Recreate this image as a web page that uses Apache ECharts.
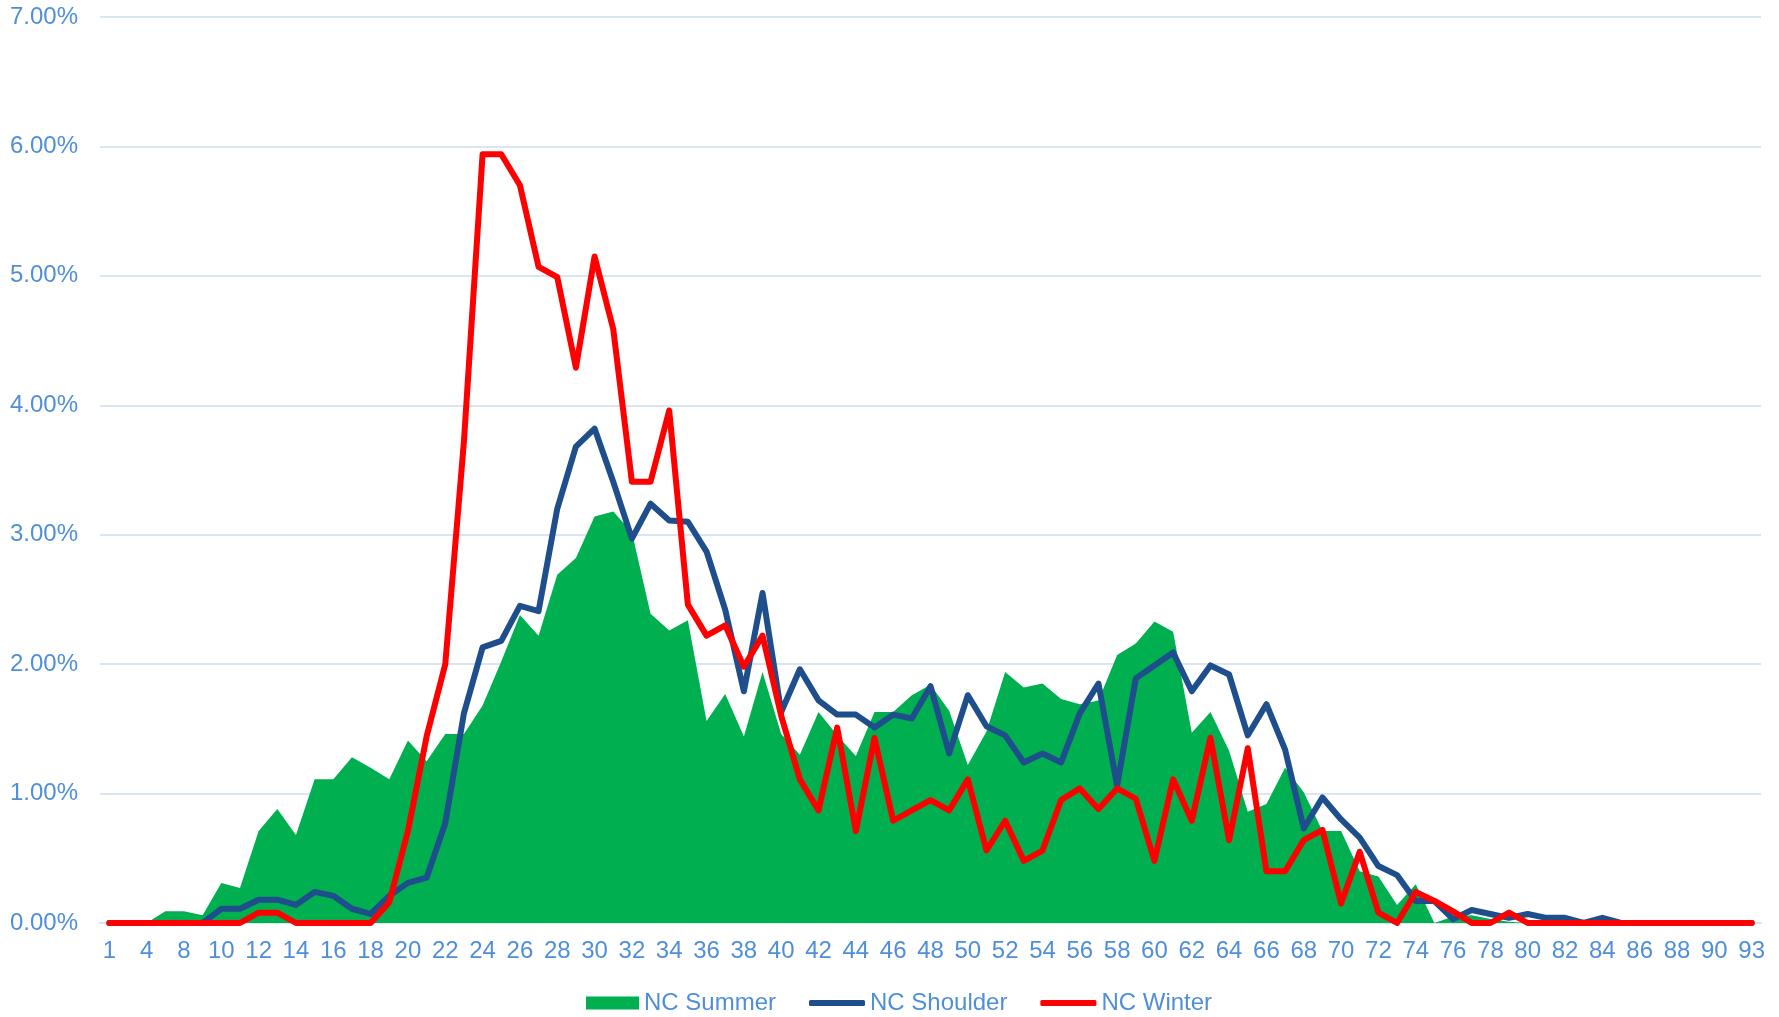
<!DOCTYPE html>
<html>
<head>
<meta charset="utf-8">
<script src="https://cdn.jsdelivr.net/npm/echarts@6/dist/echarts.min.js"></script>
<style>
  html, body { margin: 0; padding: 0; background: #fff; }
  #main { width: 1779px; height: 1017px; }
</style>
</head>
<body>
<div id="main"></div>
<script>
// x categories (only every other one is labelled)
var categories = ['1','2','4','6','8','9','10','11','12','13','14','15','16','17','18','19','20','21','22','23','24','25','26','27','28','29','30','31','32','33','34','35','36','37','38','39','40','41','42','43','44','45','46','47','48','49','50','51','52','53','54','55','56','57','58','59','60','61','62','63','64','65','66','67','68','69','70','71','72','73','74','75','76','77','78','79','80','81','82','83','84','85','86','87','88','89','90','91','93'];

// values in percent
var ncSummer = [0,0,0,0.09,0.09,0.06,0.31,0.27,0.71,0.88,
  0.68,1.11,1.11,1.28,1.20,1.11,1.41,1.25,1.46,1.46,
  1.68,2.02,2.38,2.22,2.69,2.82,3.14,3.18,3.02,2.39,
  2.26,2.34,1.56,1.77,1.44,1.94,1.46,1.30,1.63,1.45,
  1.29,1.63,1.63,1.76,1.84,1.64,1.22,1.48,1.94,1.82,
  1.85,1.73,1.69,1.72,2.07,2.16,2.33,2.25,1.47,1.63,
  1.33,0.86,0.92,1.20,1.01,0.71,0.71,0.40,0.36,0.14,
  0.30,0,0.05,0.06,0.03,0.01,0,0,0,0,
  0,0,0,0,0,0,0,0,0];

var ncShoulder = [0,0,0,0,0,0,0.11,0.11,0.18,0.18,
  0.14,0.24,0.21,0.11,0.07,0.21,0.31,0.35,0.77,1.62,
  2.13,2.18,2.45,2.41,3.20,3.68,3.82,3.41,2.97,3.24,
  3.11,3.10,2.87,2.42,1.79,2.55,1.63,1.96,1.72,1.61,
  1.61,1.51,1.61,1.58,1.83,1.31,1.76,1.52,1.45,1.24,
  1.31,1.24,1.62,1.85,1.06,1.89,1.99,2.09,1.79,1.99,
  1.92,1.45,1.69,1.34,0.73,0.97,0.80,0.66,0.44,0.37,
  0.17,0.17,0.03,0.10,0.07,0.04,0.07,0.04,0.04,0,
  0.04,0,0,0,0,0,0,0,0];

var ncWinter = [0,0,0,0,0,0,0,0,0.08,0.08,
  0,0,0,0,0,0.16,0.71,1.44,2.00,3.72,
  5.94,5.94,5.70,5.07,4.99,4.29,5.15,4.59,3.41,3.41,
  3.96,2.46,2.22,2.30,1.98,2.22,1.60,1.11,0.87,1.51,
  0.71,1.43,0.79,0.87,0.95,0.87,1.11,0.56,0.79,0.48,
  0.56,0.95,1.04,0.88,1.04,0.96,0.48,1.11,0.79,1.43,
  0.64,1.35,0.40,0.40,0.64,0.72,0.15,0.55,0.08,0,
  0.24,0.17,0.09,0,0,0.08,0,0,0,0,
  0,0,0,0,0,0,0,0,0];

var textColor = '#4F8FDA';
var gridColor = '#DAE5F3';
var font = 'Liberation Sans, Arial, sans-serif';
var legendText = { color: textColor, fontSize: 24, fontFamily: font };

var chart = echarts.init(document.getElementById('main'));
var option = {
    animation: false,
    backgroundColor: '#fff',
    grid: { left: 100, right: 18, top: 17, bottom: 94, containLabel: false },
    // two legends: the area gets a tall block, the lines get thin bars
    legend: [
        {
            left: 581,
            top: 986,
            itemWidth: 53,
            itemHeight: 13,
            textStyle: legendText,
            data: [{ name: 'NC Summer', icon: 'rect' }]
        },
        {
            left: 804,
            top: 986,
            itemWidth: 56,
            itemHeight: 6,
            itemGap: 33,
            textStyle: legendText,
            data: [
                { name: 'NC Shoulder', icon: 'roundRect' },
                { name: 'NC Winter', icon: 'roundRect' }
            ]
        }
    ],
    xAxis: {
        type: 'category',
        data: categories,
        boundaryGap: true,
        axisLine: { lineStyle: { color: gridColor, width: 2 } },
        axisTick: { show: false },
        axisLabel: { interval: 1, color: textColor, fontSize: 24, fontFamily: font, margin: 16 }
    },
    yAxis: {
        type: 'value',
        min: 0,
        max: 7,
        interval: 1,
        axisLine: { show: false },
        axisTick: { show: false },
        splitLine: { lineStyle: { color: gridColor, width: 2 } },
        axisLabel: {
            color: textColor, fontSize: 24, fontFamily: font, margin: 22,
            formatter: function (v) { return v.toFixed(2) + '%'; }
        }
    },
    series: [
        {
            name: 'NC Summer',
            type: 'line',
            data: ncSummer,
            symbol: 'none',
            color: '#00B050',
            lineStyle: { width: 0 },
            areaStyle: { color: '#00B050', opacity: 1 },
            z: 1
        },
        {
            name: 'NC Shoulder',
            type: 'line',
            data: ncShoulder,
            symbol: 'none',
            color: '#1F4E8C',
            lineStyle: { width: 6, color: '#1F4E8C', cap: 'round', join: 'round' },
            z: 2
        },
        {
            name: 'NC Winter',
            type: 'line',
            data: ncWinter,
            symbol: 'none',
            color: '#FF0000',
            lineStyle: { width: 6, color: '#FF0000', cap: 'round', join: 'round' },
            z: 3
        }
    ]
};
chart.setOption(option);
</script>
</body>
</html>
